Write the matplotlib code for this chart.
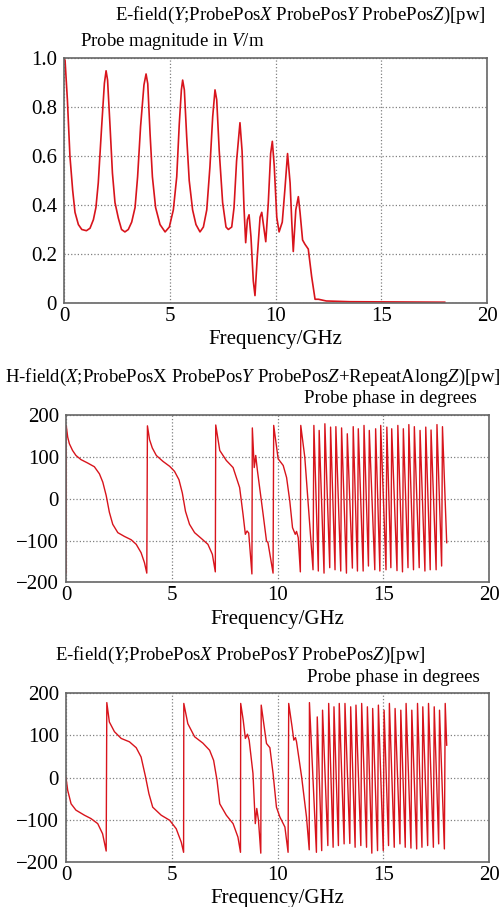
import matplotlib
matplotlib.use("Agg")
import matplotlib.pyplot as plt

plt.rcParams['font.family'] = ['Liberation Serif', 'DejaVu Serif']
plt.rcParams['mathtext.fontset'] = 'custom'
plt.rcParams['mathtext.rm'] = 'Liberation Serif'
plt.rcParams['mathtext.it'] = 'Liberation Serif:italic'

# --- E-field magnitude (top) ---
mag_freq = [0.0, 0.05, 0.16, 0.28, 0.41, 0.52, 0.68, 0.84, 1.06, 1.23, 1.39, 1.51, 1.62, 1.78,
            1.91, 1.99, 2.06, 2.17, 2.29, 2.41, 2.57, 2.72, 2.88, 3.04, 3.20, 3.36, 3.48,
            3.62, 3.78, 3.88, 3.96, 4.07, 4.18, 4.33, 4.54, 4.78, 4.98, 5.17, 5.33, 5.45,
            5.55, 5.61, 5.69, 5.80, 5.92, 6.08, 6.24, 6.43, 6.59, 6.75, 6.90, 7.03, 7.14,
            7.22, 7.34, 7.50, 7.66, 7.77, 7.93, 8.04, 8.16, 8.32, 8.42, 8.51, 8.59, 8.67,
            8.75, 8.84, 8.95, 9.03, 9.14, 9.27, 9.35, 9.46, 9.54, 9.66, 9.77, 9.85, 9.94,
            10.06, 10.17, 10.32, 10.45, 10.57, 10.69, 10.77, 10.84, 10.96, 11.08, 11.16,
            11.28, 11.39, 11.55, 11.71, 11.87, 12.03, 12.4, 13.52, 18.0]
mag_val = [1.0, 0.99, 0.83, 0.60, 0.46, 0.37, 0.32, 0.30, 0.295, 0.305, 0.34, 0.39, 0.49, 0.72,
           0.897, 0.948, 0.91, 0.733, 0.53, 0.41, 0.346, 0.30, 0.29, 0.30, 0.33, 0.39, 0.515,
           0.72, 0.89, 0.935, 0.895, 0.69, 0.515, 0.39, 0.32, 0.29, 0.31, 0.38, 0.515, 0.73,
           0.87, 0.91, 0.87, 0.68, 0.50, 0.38, 0.32, 0.29, 0.31, 0.38, 0.556, 0.76, 0.87,
           0.83, 0.62, 0.41, 0.31, 0.30, 0.31, 0.39, 0.58, 0.736, 0.62, 0.39, 0.246, 0.34,
           0.36, 0.27, 0.09, 0.03, 0.19, 0.35, 0.37, 0.30, 0.25, 0.41, 0.61, 0.66, 0.56,
           0.35, 0.29, 0.33, 0.47, 0.61, 0.49, 0.33, 0.21, 0.38, 0.434, 0.37,
           0.257, 0.24, 0.22, 0.107, 0.015, 0.015, 0.008, 0.005, 0.003]

# --- H-field phase (middle) ---
h_freq = [0.0, 0.01, 0.08, 0.16, 0.31, 0.47, 0.71, 1.02, 1.34, 1.58, 1.74, 1.90, 2.05, 2.21,
          2.45, 2.76, 3.08, 3.32, 3.55, 3.71, 3.82, 3.85, 3.95, 4.08, 4.27, 4.58, 4.90,
          5.13, 5.34, 5.50, 5.65, 5.84, 6.08, 6.40, 6.71, 6.92, 7.06, 7.08, 7.27,
          7.58, 7.90, 8.21, 8.37, 8.48, 8.56, 8.64, 8.79, 8.81, 8.90, 8.97, 9.05, 9.32,
          9.48, 9.55, 9.79, 9.82, 10.03, 10.27, 10.43, 10.58, 10.71, 10.84, 10.90, 10.98,
          11.08, 11.1, 11.29]
h_val = [-178, 176, 148, 132, 116, 104, 94, 86, 77, 60, 40, 8, -32, -61,
         -81, -90, -98, -109, -129, -153, -178, 175, 142, 122, 104, 90, 78,
         66, 46, 14, -30, -61, -81, -95, -109, -133, -175, 177, 116,
         92, 75, 27, -37, -85, -77, -82, -180, 170, 75, 104, 68, -37,
         -101, -105, -178, 176, 96, 80, 51, -5, -69, -85, -78, -93,
         -175, 176, 100]
h_peak_freq = [11.72, 11.97, 12.24, 12.51, 12.76, 13.03, 13.30, 13.58, 13.82, 14.09, 14.34, 14.64,
               14.88, 15.17, 15.40, 15.69, 15.95, 16.21, 16.47, 16.74, 17.01, 17.26, 17.54, 17.80]
h_peak_val = [176, 164, 180, 172, 173, 170, 156, 173, 168, 176, 164, 168,
              176, 172, 168, 176, 168, 178, 173, 164, 172, 165, 178, 173]
h_trough_val = [-170, -173, -178, -165, -170, -173, -178, -166, -173, -173, -161, -170,
                -173, -170, -165, -172, -175, -165, -170, -165, -173, -170, -170, -161]
h_end = (18.0, -105)

# --- E-field phase (bottom) ---
e_freq = [0.0, 0.08, 0.24, 0.47, 0.87, 1.18, 1.50, 1.73, 1.90, 1.93, 2.05, 2.29, 2.61, 3.0,
          3.32, 3.55, 3.76, 3.92, 4.10, 4.5, 4.9, 5.21, 5.45, 5.56, 5.57, 5.76, 6.08, 6.47,
          6.79, 6.98, 7.14, 7.27, 7.58, 7.90, 8.13, 8.25, 8.26, 8.38, 8.48, 8.58, 8.66,
          8.84, 8.95, 9.02, 9.10, 9.21, 9.23, 9.48, 9.64, 9.79, 9.95, 10.11, 10.35, 10.50,
          10.53, 10.69, 10.77, 10.85, 10.9, 11.14, 11.37, 11.5, 11.51]
e_val = [0, -30, -62, -77, -89, -97, -109, -133, -174, 178, 132, 109, 93, 85,
         71, 49, 2, -38, -70, -89, -101, -121, -153, -177, 176, 128, 97, 82,
         65, 41, -6, -62, -89, -109, -141, -177, 176, 136, 93, 103, 89,
         10, -109, -73, -101, -179, 172, 81, 71, 10, -70, -93, -117, -177,
         176, 120, 89, 95, 85, 2, -93, -171, 178]
e_peak_freq = [11.88, 12.13, 12.42, 12.67, 12.92, 13.19, 13.46, 13.71, 13.98, 14.25, 14.50, 14.77,
               15.04, 15.29, 15.56, 15.83, 16.08, 16.35, 16.62, 16.87, 17.14, 17.41, 17.66, 17.93]
e_peak_val = [144, 160, 176, 168, 176, 176, 168, 172, 176, 168, 164, 172,
              160, 176, 164, 160, 176, 160, 176, 168, 176, 168, 160, 176]
e_trough_val = [-177, -173, -161, -165, -161, -157, -156, -165, -161, -165, -179, -173,
                -173, -161, -165, -157, -165, -167, -169, -165, -161, -165, -157, -169]
e_end = (18.0, 77)

x_ticks = [0, 5, 10, 15, 20]
mag_ticks = [0, 0.2, 0.4, 0.6, 0.8, 1.0]
mag_labels = ['0', '0.2', '0.4', '0.6', '0.8', '1.0']
ph_ticks = [-200, -100, 0, 100, 200]
ph_labels = ['\u2212200', '\u2212100', '0', '100', '200']


def sawtooth(freq, val, peaks, pvals, tvals, end):
    # phase wraps: ramp down to the trough, then jump back up to the next peak
    f = list(freq)
    v = list(val)
    for pf, pv, tv in zip(peaks, pvals, tvals):
        f += [pf - 0.04, pf]
        v += [tv, pv]
    f.append(end[0])
    v.append(end[1])
    return f, v


RED = '#d8141c'
fig = plt.figure(figsize=(5.0, 9.07), dpi=100)


def style(ax, yt, yl, ylim):
    ax.set_xlim(0, 20)
    ax.set_ylim(*ylim)
    ax.set_xticks(x_ticks)
    ax.set_yticks(yt)
    ax.set_yticklabels(yl)
    ax.tick_params(length=0, labelsize=15, pad=3)
    ax.tick_params(axis='y', pad=5)
    ax.grid(True, color='#808080', linestyle=':', linewidth=0.9)
    for s in ax.spines.values():
        s.set_color('#666666')
        s.set_linewidth(1.2)
    ax.set_xlabel('Frequency/GHz', fontsize=15, labelpad=3)


ax1 = fig.add_axes([0.128, 0.666, 0.846, 0.270])
ax1.plot(mag_freq, mag_val, color=RED, lw=1.2)
style(ax1, mag_ticks, mag_labels, (0, 1.0))

ax2 = fig.add_axes([0.132, 0.358, 0.846, 0.184])
f2, v2 = sawtooth(h_freq, h_val, h_peak_freq, h_peak_val, h_trough_val, h_end)
ax2.plot(f2, v2, color=RED, lw=1.0)
style(ax2, ph_ticks, ph_labels, (-200, 200))

ax3 = fig.add_axes([0.132, 0.0496, 0.846, 0.186])
f3, v3 = sawtooth(e_freq, e_val, e_peak_freq, e_peak_val, e_trough_val, e_end)
ax3.plot(f3, v3, color=RED, lw=1.0)
style(ax3, ph_ticks, ph_labels, (-200, 200))

H = 907.0
tfs = 13.5
fig.text(485 / 500, 1 - 15 / H,
         r'E-field($Y$;ProbePos$X$ ProbePos$Y$ ProbePos$Z$)[pw]',
         ha='right', va='center', fontsize=tfs)
fig.text(80 / 500, 1 - 42 / H, r'Probe magnitude in $V$/m',
         ha='left', va='center', fontsize=tfs)
fig.text(253 / 500, 1 - 377 / H,
         r'H-field($X$;ProbePosX ProbePos$Y$ ProbePos$Z$+RepeatAlong$Z$)[pw]',
         ha='center', va='center', fontsize=tfs)
fig.text(477 / 500, 1 - 399 / H, 'Probe phase in degrees',
         ha='right', va='center', fontsize=tfs)
fig.text(240 / 500, 1 - 655 / H,
         r'E-field($Y$;ProbePos$X$ ProbePos$Y$ ProbePos$Z$)[pw]',
         ha='center', va='center', fontsize=tfs)
fig.text(480 / 500, 1 - 678 / H, 'Probe phase in degrees',
         ha='right', va='center', fontsize=tfs)

fig.savefig('out.png', dpi=100, facecolor='white')
